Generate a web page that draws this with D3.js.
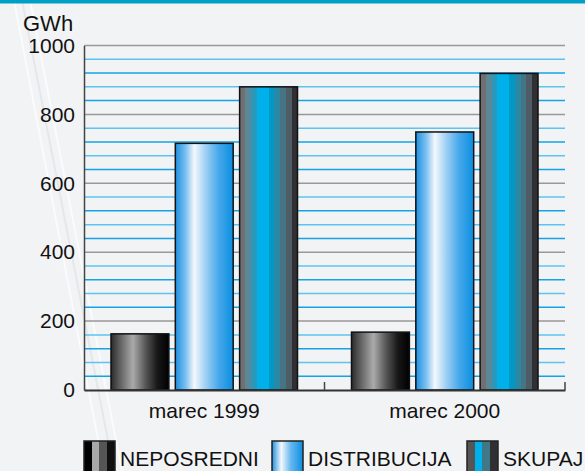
<!DOCTYPE html>
<html>
<head>
<meta charset="utf-8">
<script src="https://cdn.jsdelivr.net/npm/d3@7"></script>
<style>
  body { margin: 0; background: #f2f3f5; }
  svg { display: block; font-family: "Liberation Sans", Arial, sans-serif; }
</style>
</head>
<body>
<div id="root"></div>
<script>
// data
let categories = ["marec 1999", "marec 2000"];
let seriesNames = ["NEPOSREDNI", "DISTRIBUCIJA", "SKUPAJ"];
let neposredni = [163, 168];
let distribucija = [716, 749];
let skupaj = [880, 919];
let yTicks = [0, 200, 400, 600, 800, 1000];

let seriesValues = [neposredni, distribucija, skupaj];

let W = 585, H = 471;
let margin = { top: 45.5, right: 20, bottom: 81, left: 84 },
  width = W - margin.left - margin.right,
  height = H - margin.top - margin.bottom;

let fontSize = 21;

let svg = d3.select("#root").append("svg")
  .attr("width", W).attr("height", H);

svg.append("rect").attr("width", W).attr("height", H).attr("fill", "#f2f3f5");

// faint diagonal streaks in the background
[[14, 0, 104, 471, "#fafbfc"], [22, 0, 114, 471, "#e6e7ea"], [30, 0, 122, 471, "#fafbfc"]].forEach((s) => {
  svg.append("line")
    .attr("x1", s[0]).attr("y1", s[1]).attr("x2", s[2]).attr("y2", s[3])
    .attr("stroke", s[4]).attr("stroke-width", 2);
});

// top band
svg.append("rect").attr("width", W).attr("height", 3.5).attr("fill", "#00a0c6");

let defs = svg.append("defs");

function gradient(id, stops, stepped) {
  let g = defs.append("linearGradient").attr("id", id)
    .attr("x1", "0%").attr("x2", "100%").attr("y1", "0%").attr("y2", "0%");
  if (stepped) {
    let n = stops.length;
    stops.forEach((c, i) => {
      g.append("stop").attr("offset", (i / n) * 100 + "%").attr("stop-color", c);
      g.append("stop").attr("offset", ((i + 1) / n) * 100 + "%").attr("stop-color", c);
    });
  } else {
    stops.forEach((s) => {
      g.append("stop").attr("offset", s[0] + "%").attr("stop-color", s[1]);
    });
  }
}

gradient("gNep", [[0, "#2a2a2a"], [12, "#555"], [38, "#aaa"], [60, "#555"], [80, "#181818"], [100, "#000"]]);
gradient("gDis", [[0, "#1e8fe0"], [18, "#7cc0f0"], [33, "#f4f8fc"], [50, "#a8d4f4"], [75, "#46a8ec"], [100, "#0a8ee0"]]);
gradient("gSku", ["#707070", "#5a8898", "#2a98b8", "#00b0ea", "#00b0ea", "#0098c4", "#2a88a4", "#467484", "#4e5c66", "#303034"], true);
gradient("lNep", ["#000", "#a8a8a8", "#555", "#101010"], true);
gradient("lDis", [[0, "#1e8fe0"], [30, "#f4f8fc"], [60, "#6ab8f0"], [100, "#0a8ee0"]]);
gradient("lSku", ["#555", "#00b0ea", "#407888", "#303034"], true);

let fills = ["url(#gNep)", "url(#gDis)", "url(#gSku)"];
let legendFills = ["url(#lNep)", "url(#lDis)", "url(#lSku)"];

let g = svg.append("g").attr("transform", "translate(" + margin.left + "," + margin.top + ")");

let y = d3.scaleLinear().domain([0, 1000]).range([height, 0]);
let x0 = d3.scaleBand().domain(categories).range([0, width]).paddingInner(0).paddingOuter(0);
let x1 = d3.scaleBand().domain(seriesNames).range([27, x0.bandwidth() - 27]).paddingInner(0.1);

// minor blue gridlines
let minor = d3.range(40, 1000, 40).filter((v) => v % 200 !== 0);
g.selectAll(".minor").data(minor).enter().append("line")
  .attr("x1", 0).attr("x2", width)
  .attr("y1", (d) => y(d)).attr("y2", (d) => y(d))
  .attr("stroke", (d, i) => (i % 2 ? "#5cc4f0" : "#14a4e6"))
  .attr("stroke-width", 1.5);

// major gray gridlines
g.selectAll(".major").data(yTicks.filter((d) => d > 0)).enter().append("line")
  .attr("x1", 0).attr("x2", width)
  .attr("y1", (d) => y(d)).attr("y2", (d) => y(d))
  .attr("stroke", "#999").attr("stroke-width", 1.5);

// bars
categories.forEach((cat, ci) => {
  seriesNames.forEach((s, si) => {
    let v = seriesValues[si][ci];
    g.append("rect")
      .attr("x", x0(cat) + x1(s))
      .attr("y", y(v))
      .attr("width", x1.bandwidth())
      .attr("height", y(0) - y(v))
      .attr("fill", fills[si])
      .attr("stroke", "#111").attr("stroke-width", 1.5);
  });
});

// y axis
let yAxis = g.append("g")
  .call(d3.axisLeft(y).tickValues(yTicks).tickFormat(d3.format("d")).tickSize(0).tickPadding(9));
yAxis.select(".domain").attr("stroke", "#444").attr("stroke-width", 1.5);
yAxis.selectAll("text").attr("font-size", fontSize).attr("fill", "#111")
  .attr("font-family", "Liberation Sans, Arial, sans-serif");

// x axis
let xAxis = g.append("g").attr("transform", "translate(0," + height + ")")
  .call(d3.axisBottom(x0).tickSize(0).tickPadding(13));
xAxis.select(".domain").attr("stroke", "#333").attr("stroke-width", 2);
xAxis.selectAll("text").attr("font-size", fontSize).attr("fill", "#111")
  .attr("font-family", "Liberation Sans, Arial, sans-serif");
// small ticks between and at the right end
[x0.bandwidth(), width].forEach((xv) => {
  xAxis.append("line").attr("x1", xv).attr("x2", xv).attr("y1", 0).attr("y2", -8)
    .attr("stroke", "#444").attr("stroke-width", 1.5);
});

// unit label
svg.append("text").attr("x", 23).attr("y", 31).text("GWh")
  .attr("font-size", 22).attr("fill", "#111");

// legend
let legendX = [84, 272, 467];
seriesNames.forEach((s, i) => {
  svg.append("rect").attr("x", legendX[i]).attr("y", 441).attr("width", 31).attr("height", 34)
    .attr("fill", legendFills[i]).attr("stroke", "#222").attr("stroke-width", 1.5);
  svg.append("text").attr("x", legendX[i] + 36).attr("y", 466).text(s)
    .attr("font-size", fontSize).attr("fill", "#111");
});
</script>
</body>
</html>
